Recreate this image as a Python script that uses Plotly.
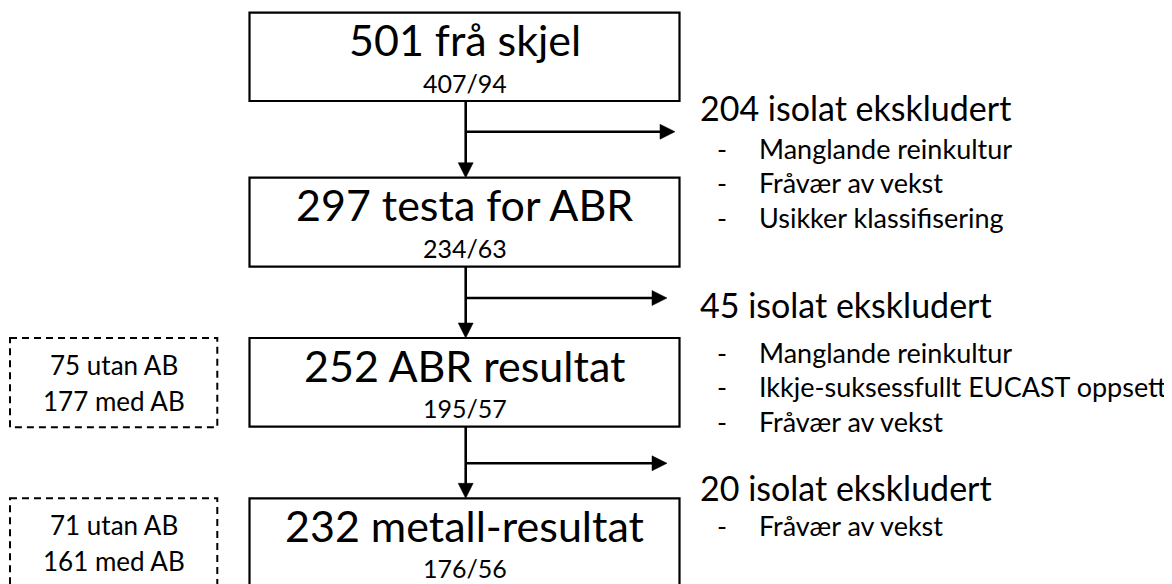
import plotly.graph_objects as go

# ---- data ----
box_titles = ["501 frå skjel", "297 testa for ABR", "252 ABR resultat", "232 metall-resultat"]
box_splits = ["407/94", "234/63", "195/57", "176/56"]
excluded_counts = [204, 45, 20]
excluded_reasons = [
    ["Manglande reinkultur", "Fråvær av vekst", "Usikker klassifisering"],
    ["Manglande reinkultur", "Ikkje-suksessfullt EUCAST oppsett", "Fråvær av vekst"],
    ["Fråvær av vekst"],
]
without_ab = [75, 71]
with_ab = [177, 161]

# ---- layout geometry (page pixels, y downward) ----
W, H = 1172, 584
PAGE_OFF = 8  # browser body margin
box_left, box_right = 249.5, 679.5
box_tops = [12.7, 177.7, 338.0, 498.3]
box_bottoms = [101.0, 266.7, 426.7, 610.0]
stem_x = 465.7
arrow_y = [131.7, 298.0, 463.3]
arrow_tip = [675.0, 667.0, 667.0]
excl_title_y = [107.0, 304.0, 487.0]
excl_first_y = [148.0, 352.0, 525.0]
excl_step = 34.5
excl_x = 698.0
dash_x = 722.0
reason_x = 757.0
side_boxes = [(10.0, 217.3, 338.0, 427.3), (10.0, 217.3, 498.3, 610.0)]

FONT = "Lato, Carlito, Calibri, sans-serif"
BLACK = "#000000"

shapes = []
annotations = []

def add_text(x, y, text, size, xanchor="center"):
    annotations.append(dict(
        x=x, y=y, xref="x", yref="y", text=text, showarrow=False,
        xanchor=xanchor, yanchor="middle",
        font=dict(family=FONT, size=size, color=BLACK),
    ))

# main boxes
for i, (t, s) in enumerate(zip(box_titles, box_splits)):
    shapes.append(dict(type="rect", xref="x", yref="y",
                       x0=box_left, x1=box_right, y0=box_tops[i], y1=box_bottoms[i],
                       line=dict(color=BLACK, width=2.2), fillcolor="rgba(0,0,0,0)"))
    cx = (box_left + box_right) / 2
    add_text(cx, box_tops[i] + 27, t, 43)
    add_text(cx, box_tops[i] + 70, s, 25)

# connectors and arrows
head_len, head_half = 15, 7.5
for i in range(3):
    y_start = box_bottoms[i]
    y_end = box_tops[i + 1]
    shapes.append(dict(type="line", xref="x", yref="y", x0=stem_x, x1=stem_x,
                       y0=y_start, y1=y_end - head_len + 1,
                       line=dict(color=BLACK, width=2.6)))
    shapes.append(dict(type="path", xref="x", yref="y",
                       path=f"M {stem_x - head_half} {y_end - head_len} L {stem_x + head_half} {y_end - head_len} L {stem_x} {y_end} Z",
                       fillcolor=BLACK, line=dict(color=BLACK, width=0.5)))
    tip = arrow_tip[i]
    ay = arrow_y[i]
    shapes.append(dict(type="line", xref="x", yref="y", x0=stem_x, x1=tip - head_len + 1,
                       y0=ay, y1=ay, line=dict(color=BLACK, width=2.6)))
    shapes.append(dict(type="path", xref="x", yref="y",
                       path=f"M {tip - head_len} {ay - head_half} L {tip - head_len} {ay + head_half} L {tip} {ay} Z",
                       fillcolor=BLACK, line=dict(color=BLACK, width=0.5)))

# exclusion texts
for i, n in enumerate(excluded_counts):
    add_text(excl_x, excl_title_y[i], f"{n} isolat ekskludert", 34, xanchor="left")
    for j, r in enumerate(excluded_reasons[i]):
        yy = excl_first_y[i] + j * excl_step
        add_text(dash_x, yy, "-", 27)
        add_text(reason_x, yy, r, 27, xanchor="left")

# dashed side boxes
for k, (x0, x1, y0, y1) in enumerate(side_boxes):
    shapes.append(dict(type="rect", xref="x", yref="y", x0=x0, x1=x1, y0=y0, y1=y1,
                       line=dict(color=BLACK, width=2, dash="7px,5px"),
                       fillcolor="rgba(0,0,0,0)"))
    cx = (x0 + x1) / 2
    add_text(cx, y0 + 27, f"{without_ab[k]} utan AB", 26)
    add_text(cx, y0 + 63, f"{with_ab[k]} med AB", 26)

fig = go.Figure()
fig.update_layout(
    width=W - PAGE_OFF, height=H - PAGE_OFF,
    margin=dict(l=0, r=0, t=0, b=0),
    paper_bgcolor="white", plot_bgcolor="white",
    xaxis=dict(range=[PAGE_OFF, W], visible=False, fixedrange=True),
    yaxis=dict(range=[H, PAGE_OFF], visible=False, fixedrange=True),
    shapes=shapes, annotations=annotations,
    showlegend=False,
)
fig.write_html("out.html")
